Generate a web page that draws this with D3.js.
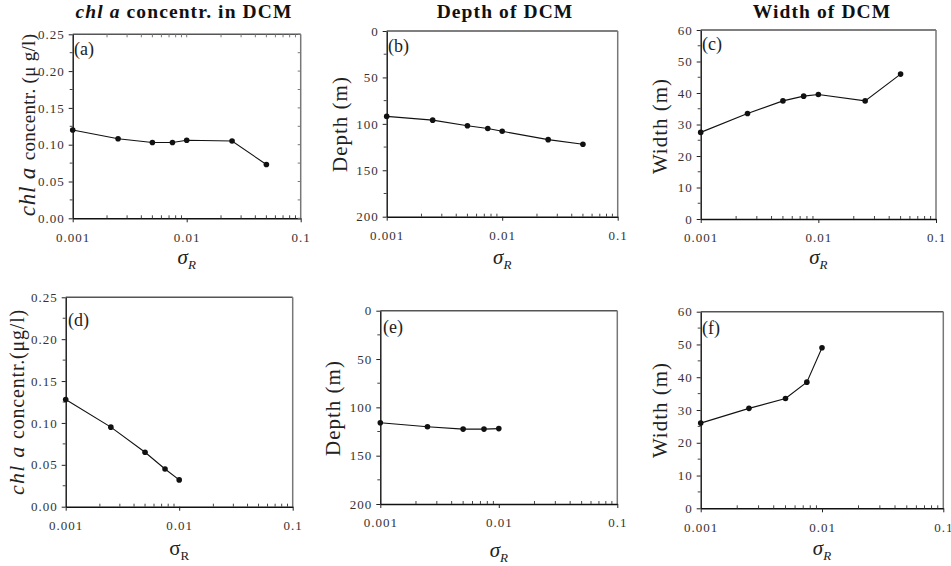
<!DOCTYPE html>
<html>
<head>
<meta charset="utf-8">
<script src="https://cdn.jsdelivr.net/npm/d3@7"></script>
<style>
  html, body { margin: 0; padding: 0; background: #fff; }
  svg { display: block; font-family: "Liberation Serif", "Times New Roman", serif; }
</style>
</head>
<body>
<svg id="chart" width="951" height="566"></svg>
<script>
// ---------------- data ----------------
const sigmaTop = [0.001, 0.0025, 0.005, 0.0075, 0.01, 0.025, 0.05];
const chlTop = [0.120, 0.108, 0.103, 0.103, 0.106, 0.105, 0.073];
const depthTop = [92, 96, 102, 105, 108, 117, 122];
const widthTop = [27.5, 33.5, 37.5, 39, 39.5, 37.5, 46];

const sigmaBottom = [0.001, 0.0025, 0.005, 0.0075, 0.01];
const chlBottom = [0.128, 0.095, 0.065, 0.045, 0.032];
const depthBottom = [116, 120, 122.5, 122.5, 122];
const widthBottom = [26, 30.5, 33.5, 38.5, 49];

const xTicks = [0.001, 0.01, 0.1];
const xTickLabels = ["0.001", "0.01", "0.1"];
const chlTicks = [0, 0.05, 0.10, 0.15, 0.20, 0.25];
const chlTickLabels = ["0.00", "0.05", "0.10", "0.15", "0.20", "0.25"];
const depthTicks = [0, 50, 100, 150, 200];
const depthTickLabels = ["0", "50", "100", "150", "200"];
const widthTicks = [0, 10, 20, 30, 40, 50, 60];
const widthTickLabels = ["0", "10", "20", "30", "40", "50", "60"];

const titles = ["Depth of DCM", "Width of DCM"];
const panelLetters = ["(a)", "(b)", "(c)", "(d)", "(e)", "(f)"];

// ---------------- layout ----------------
const svg = d3.select("#chart");
const SERIF = "Liberation Serif, Times New Roman, serif";

const panels = [
  { id: 0, x: sigmaTop, y: chlTop, ticks: chlTicks, labels: chlTickLabels, dom: [0, 0.25], minorStep: 0.025, inverted: false,
    box: [72.7, 300.7, 34.3, 218.3], letterPos: [74, 55], sigmaY: 264, ylab: "chl", ylabPos: [35, 125], frameTicks: true, sigmaItalic: true },
  { id: 1, x: sigmaTop, y: depthTop, ticks: depthTicks, labels: depthTickLabels, dom: [0, 200], minorStep: 25, inverted: true,
    box: [386.7, 617.7, 31, 216.7], letterPos: [388, 52], sigmaY: 264, ylab: "Depth (m)", ylabPos: [347, 124], sigmaItalic: true },
  { id: 2, x: sigmaTop, y: widthTop, ticks: widthTicks, labels: widthTickLabels, dom: [0, 60], minorStep: 5, inverted: false,
    box: [700.7, 936, 30, 219], letterPos: [702, 50], sigmaY: 264, ylab: "Width (m)", ylabPos: [667, 126], sigmaItalic: true },
  { id: 3, x: sigmaBottom, y: chlBottom, ticks: chlTicks, labels: chlTickLabels, dom: [0, 0.25], minorStep: 0.025, inverted: false,
    box: [65.7, 292.7, 297.3, 506.7], letterPos: [68, 326], sigmaY: 555, ylab: "chl2", ylabPos: [24, 402], sigmaItalic: false },
  { id: 4, x: sigmaBottom, y: depthBottom, ticks: depthTicks, labels: depthTickLabels, dom: [0, 200], minorStep: 25, inverted: true,
    box: [380.3, 617.3, 310.7, 504], letterPos: [383, 333], sigmaY: 557, ylab: "Depth (m)", ylabPos: [340, 408], sigmaItalic: true },
  { id: 5, x: sigmaBottom, y: widthBottom, ticks: widthTicks, labels: widthTickLabels, dom: [0, 60], minorStep: 5, inverted: false,
    box: [700.7, 943.3, 311.7, 508.3], letterPos: [702, 334], sigmaY: 555, ylab: "Width (m)", ylabPos: [667, 410], sigmaItalic: true }
];

// titles
const titleG = svg.append("g").attr("font-weight", "bold").attr("font-size", 19.5).attr("letter-spacing", 1.1).attr("fill", "#111");
const t0 = titleG.append("text").attr("x", 184).attr("y", 18).attr("text-anchor", "middle");
t0.append("tspan").attr("font-style", "italic").text("chl a");
t0.append("tspan").text(" concentr. in DCM");
titleG.append("text").attr("x", 505).attr("y", 18).attr("text-anchor", "middle").text(titles[0]);
titleG.append("text").attr("x", 822).attr("y", 18).attr("text-anchor", "middle").text(titles[1]);

panels.forEach(p => {
  const [L, R, T, B] = p.box;
  const g = svg.append("g");
  const xs = d3.scaleLog().domain([0.001, 0.1]).range([L, R]);
  const ys = d3.scaleLinear().domain(p.dom).range(p.inverted ? [T, B] : [B, T]);

  // frame: top and right gray
  g.append("line").attr("x1", L).attr("x2", R).attr("y1", T).attr("y2", T).attr("stroke", "#555").attr("stroke-width", 1.5);
  g.append("line").attr("x1", R).attr("x2", R).attr("y1", T).attr("y2", B).attr("stroke", "#777").attr("stroke-width", 1.5);

  // minor x ticks (log decades)
  const minorX = [];
  [0.001, 0.01].forEach(d => { for (let k = 2; k <= 9; k++) minorX.push(d * k); });

  // bottom axis
  const xAxis = d3.axisBottom(xs).tickValues(xTicks).tickFormat((d, i) => xTickLabels[i]).tickSizeInner(4).tickSizeOuter(0).tickPadding(10);
  const gx = g.append("g").attr("transform", `translate(0,${B})`).call(xAxis);
  gx.attr("font-family", SERIF);
  gx.select(".domain").attr("stroke", "#111").attr("stroke-width", 1.4);
  gx.selectAll(".tick line").attr("stroke", "#222");
  gx.selectAll(".tick text").attr("font-size", 13).attr("letter-spacing", 1).attr("fill", "#333").attr("font-family", SERIF);
  gx.selectAll(".minor").data(minorX).enter().append("line")
    .attr("x1", d => xs(d)).attr("x2", d => xs(d)).attr("y1", 0).attr("y2", -3).attr("stroke", "#444");

  // left axis
  const minorY = d3.range(p.dom[0] + p.minorStep, p.dom[1], p.minorStep * 2);
  const yAxis = d3.axisLeft(ys).tickValues(p.ticks).tickFormat((d, i) => p.labels[i]).tickSizeInner(4).tickSizeOuter(0).tickPadding(4);
  const gy = g.append("g").attr("transform", `translate(${L},0)`).call(yAxis);
  gy.attr("font-family", SERIF);
  gy.select(".domain").attr("stroke", "#111").attr("stroke-width", 1.4);
  gy.selectAll(".tick line").attr("stroke", "#222");
  gy.selectAll(".tick text").attr("font-size", 13).attr("letter-spacing", 1).attr("fill", "#333").attr("font-family", SERIF);
  gy.selectAll(".minor").data(minorY).enter().append("line")
    .attr("x1", 0).attr("x2", -3).attr("y1", d => ys(d)).attr("y2", d => ys(d)).attr("stroke", "#444");

  if (p.frameTicks) {
    g.selectAll(".tt").data(minorX.concat([0.01])).enter().append("line")
      .attr("x1", d => xs(d)).attr("x2", d => xs(d)).attr("y1", T).attr("y2", T + 3).attr("stroke", "#777");
    g.selectAll(".rt").data(minorY.concat(p.ticks)).enter().append("line")
      .attr("x1", R).attr("x2", R - 3).attr("y1", d => ys(d)).attr("y2", d => ys(d)).attr("stroke", "#777");
  }

  // data line + points
  const pts = p.x.map((v, i) => [v, p.y[i]]);
  const line = d3.line().x(d => xs(d[0])).y(d => ys(d[1]));
  g.append("path").datum(pts).attr("d", line).attr("fill", "none").attr("stroke", "#111").attr("stroke-width", 1.1);
  g.selectAll(".pt").data(pts).enter().append("circle")
    .attr("cx", d => xs(d[0])).attr("cy", d => ys(d[1])).attr("r", 2.8).attr("fill", "#111");

  // panel letter
  g.append("text").attr("x", p.letterPos[0]).attr("y", p.letterPos[1]).attr("font-size", 18).attr("fill", "#222").text(panelLetters[p.id]);

  // x label sigma_R
  const cx = (L + R) / 2;
  const xl = g.append("text").attr("x", cx).attr("y", p.sigmaY).attr("text-anchor", "middle").attr("fill", "#222");
  xl.append("tspan").attr("font-size", 21).attr("font-style", p.sigmaItalic ? "italic" : "normal").text("σ");
  xl.append("tspan").attr("font-size", 13).attr("font-style", p.sigmaItalic ? "italic" : "normal").attr("dy", 5).text("R");

  // y label
  const yl = g.append("text").attr("transform", `translate(${p.ylabPos[0]},${p.ylabPos[1]}) rotate(-90)`)
    .attr("text-anchor", "middle").attr("fill", "#222");
  if (p.ylab === "chl") {
    yl.append("tspan").attr("font-style", "italic").attr("font-size", 23).attr("letter-spacing", 0.8).text("chl a  ");
    yl.append("tspan").attr("font-size", 19).attr("letter-spacing", 0.3).text("concentr. (μ g/l)");
  } else if (p.ylab === "chl2") {
    yl.append("tspan").attr("font-style", "italic").attr("font-size", 22).attr("letter-spacing", 1.2).text("chl a ");
    yl.append("tspan").attr("font-size", 20).attr("letter-spacing", 0.8).text("concentr.(μg/l)");
  } else {
    yl.attr("font-size", 21).attr("letter-spacing", 1).text(p.ylab);
  }
});
</script>
</body>
</html>
